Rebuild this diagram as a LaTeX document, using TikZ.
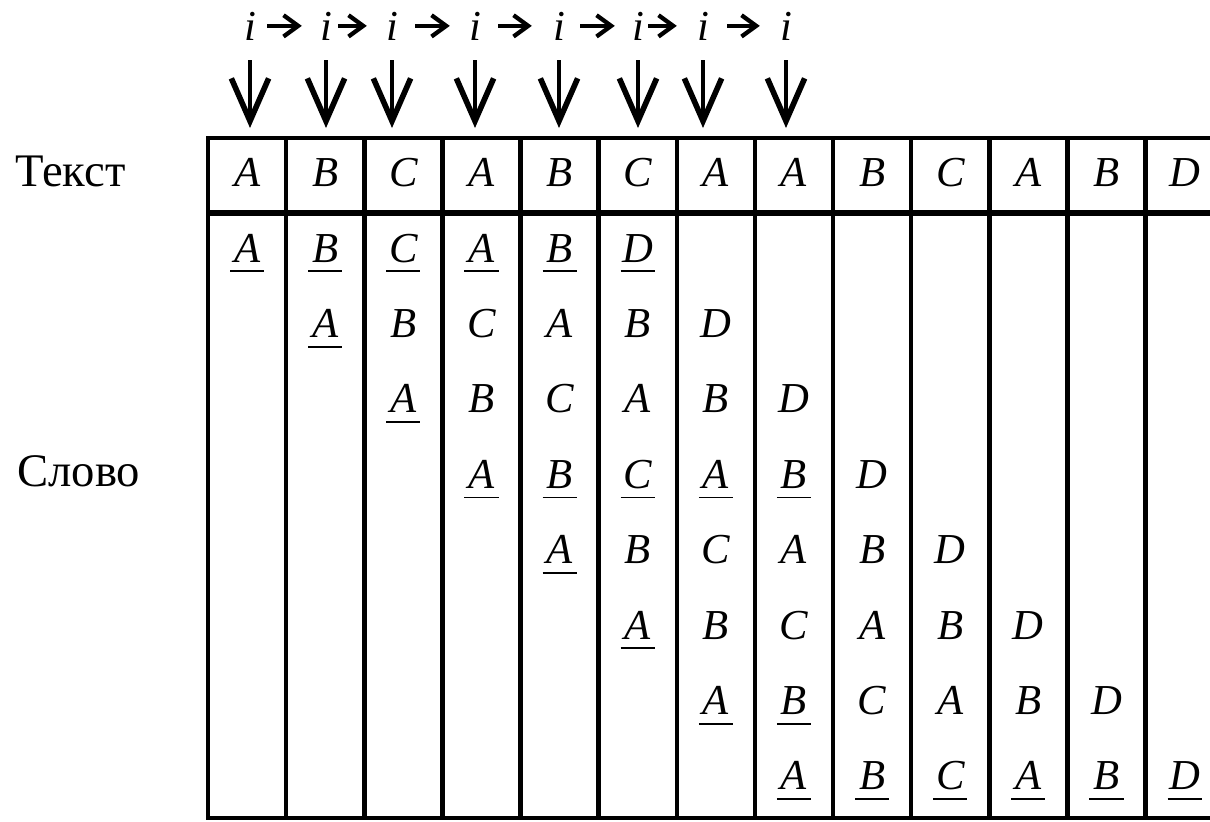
\documentclass[tikz,border=0pt]{standalone}
\usepackage{fontspec}
\setmainfont{Liberation Serif}
\usetikzlibrary{arrows.meta}
\newcommand{\ulx}[1]{\ooalign{#1\cr\hidewidth\rule[-0.24em]{0.8em}{0.045em}\hidewidth\cr}}
\begin{document}
\begin{tikzpicture}[x=0.75pt,y=-0.75pt,
  lt/.style={font=\fontsize{32}{38}\selectfont\itshape, inner sep=0pt, anchor=base},
  lbl/.style={font=\fontsize{35}{42}\selectfont, inner sep=0pt, anchor=base west},
  tline/.style={line width=3.4pt, line cap=rect},
  harrow/.style={line width=3.2pt, -{Straight Barb[length=11pt,width=16pt,line width=3.2pt]}},
  darrow/.style={line width=2.4pt, -{Straight Barb[length=32pt,width=28pt,line width=4.2pt]}}]
\useasboundingbox (0,0) rectangle (1210,821);
\clip (0,0) rectangle (1210,821);
% table lines
\draw[line width=3pt] (208,138) -- (1210,138);
\draw[line width=5pt] (208,213) -- (1210,213);
\draw[line width=3.4pt] (208,818) -- (1210,818);
\foreach \k in {0,...,12}{
  \draw[tline] ({208+78.13*\k},138) -- ({208+78.13*\k},818);
}
% header letters
\foreach \L [count=\c] in {A,B,C,A,B,C,A,A,B,C,A,B,D}{
  \node[lt] (h\c) at ({208+78.13*(\c-0.5)},186) {\L};
}
% body letters
\foreach \r/\n in {1/6,2/1,3/1,4/5,5/1,6/1,7/2,8/6}{
  \foreach \L [count=\j] in {A,B,C,A,B,D}{
    \pgfmathtruncatemacro\c{\r+\j-1}
    \ifnum\j>\n
      \node[lt] (c\r-\c) at ({208+78.13*(\c-0.5)},{262+75.4*(\r-1)}) {\L};
    \else
      \node[lt] (c\r-\c) at ({208+78.13*(\c-0.5)},{262+75.4*(\r-1)}) {\ulx{\L}};
    \fi
  }
}
% row labels
\node[lbl] (tekst) at (15,186) {Текст};
\node[lbl] (slovo) at (17,486) {Слово};
% pointer i
\foreach \x [count=\k] in {250,326,392,475,559,638,703,786}{
  \node[lt] (i\k) at (\x,40) {i};
}
\foreach \a/\b/\s/\e in {1/2/11/18,2/3/6/19,3/4/17/19,4/5/17/21,5/6/15/17,6/7/4/20,7/8/18/20}{
  \draw[harrow] ([xshift=\s*0.75pt]i\a.east) -- ([xshift=-\e*0.75pt]i\b.west);
}
\foreach \k in {1,...,8}{
  \draw[darrow] ([yshift=-15pt]i\k.base) -- ([yshift=-66pt]i\k.base);
}
\end{tikzpicture}
\end{document}
